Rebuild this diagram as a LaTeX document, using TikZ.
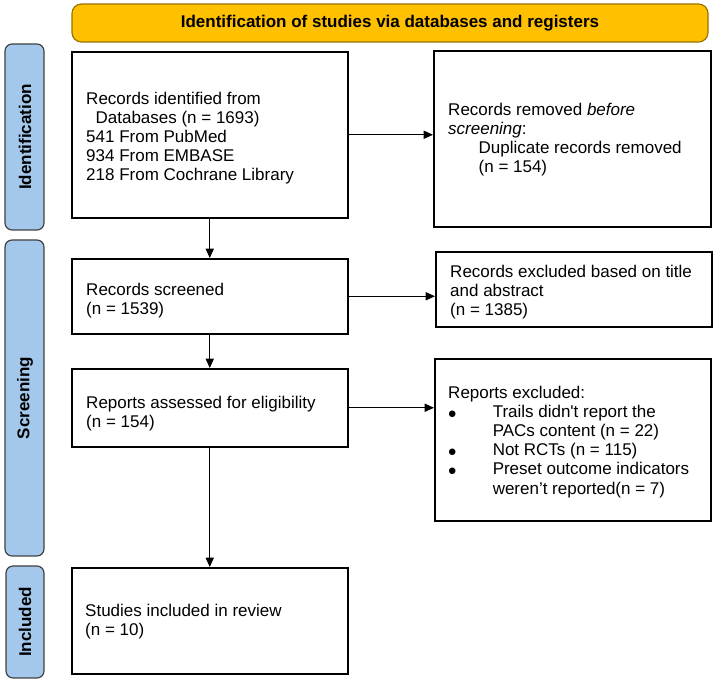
\documentclass[tikz,border=0pt]{standalone}
\usepackage{fontspec}
\setmainfont{Liberation Sans}
\usetikzlibrary{arrows.meta}
\begin{document}
\begin{tikzpicture}[x=0.03cm,y=-0.03cm,
 box/.style={draw,line width=1.3pt,fill=white,anchor=north west,inner sep=0pt},
 txt/.style={anchor=north west,align=left,font=\fontsize{14.5}{16.3}\selectfont,inner sep=0pt},
 lab/.style={rotate=90,font=\bfseries\fontsize{14.5}{16}\selectfont},
 side/.style={fill=sideb,draw=black!75,line width=1pt,rounded corners=6pt},
 arr/.style={-{Triangle[length=8pt,width=7pt]},line width=0.8pt}]
\definecolor{sideb}{HTML}{A4C8EC}
\definecolor{band}{HTML}{FFC000}
\newcommand{\bul}{\makebox[38pt][l]{\raisebox{-0.5pt}{\Large$\bullet$}}}
\useasboundingbox (0,0) rectangle (715,683);
\draw[fill=band,draw=black!40!band,line width=1pt,rounded corners=8pt] (72,4) rectangle (708,42);
\node[font=\bfseries\fontsize{14.5}{16}\selectfont] (t) at (390,23) {Identification of studies via databases and registers};
\draw[side] (5,44) rectangle (44,230);
\node[lab] (s1) at (25,137) {Identification};
\draw[side] (5,240) rectangle (44,556);
\node[lab] (s2) at (25,398) {Screening};
\draw[side] (6,566) rectangle (44,678);
\node[lab] (s3) at (25,622) {Included};
% boxes
\node[box,minimum width=276*0.03cm,minimum height=166*0.03cm] (b1) at (71,51) {};
\node[txt] at (86,92) {Records identified from\\\ \ Databases (n = 1693)\\541 From PubMed\\934 From EMBASE\\218 From Cochrane Library};
\node[box,minimum width=277*0.03cm,minimum height=176*0.03cm] (b2) at (433,50) {};
\node[txt] at (448,103) {Records removed \textit{before}\\\textit{screening}:\\\hspace*{26pt}Duplicate records removed\\\hspace*{26pt}(n = 154)};
\node[box,minimum width=276*0.03cm,minimum height=75*0.03cm] (b3) at (71,258) {};
\node[txt] at (86,283) {Records screened\\(n = 1539)};
\node[box,minimum width=276*0.03cm,minimum height=75*0.03cm] (b4) at (435,251) {};
\node[txt] at (450,265) {Records excluded based on title\\and abstract\\(n = 1385)};
\node[box,minimum width=276*0.03cm,minimum height=78*0.03cm] (b5) at (71,368) {};
\node[txt] at (86,396) {Reports assessed for eligibility\\(n = 154)};
\node[box,minimum width=276*0.03cm,minimum height=162*0.03cm] (b6) at (434,358) {};
\node[txt] at (448,386) {Reports excluded:\\\bul Trails didn\textquotesingle t report the\\\hspace*{38pt}PACs content (n = 22)\\\bul Not RCTs (n = 115)\\\bul Preset outcome indicators\\\hspace*{38pt}weren’t reported(n = 7)};
\node[box,minimum width=276*0.03cm,minimum height=106*0.03cm] (b7) at (71,567) {};
\node[txt] at (85,604) {Studies included in review\\(n = 10)};
% arrows
\draw[arr] (b1.south) -- (b3.north);
\draw[arr] (b3.south) -- (b5.north);
\draw[arr] (b5.south) -- (b7.north);
\draw[arr] (b1.east) -- (b1.east -| b2.west);
\draw[arr] (b3.east) -- (b3.east -| b4.west);
\draw[arr] (b5.east) -- (b5.east -| b6.west);
\end{tikzpicture}
\end{document}
